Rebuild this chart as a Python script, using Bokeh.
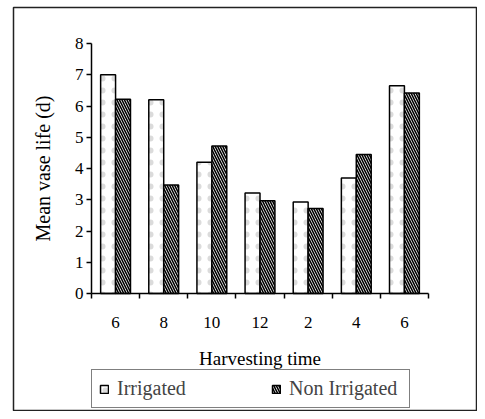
import numpy as np
from bokeh.plotting import figure
from bokeh.models import ColumnDataSource, FixedTicker, Legend, LegendItem, Range1d
from bokeh.embed import file_html
from bokeh.resources import INLINE

harvest_times = ["6", "8", "10", "12", "2", "4", "6"]
irrigated = [7.0, 6.2, 4.2, 3.22, 2.93, 3.7, 6.65]
non_irrigated = [6.22, 3.47, 4.72, 2.97, 2.72, 4.45, 6.42]
y_ticks = [0, 1, 2, 3, 4, 5, 6, 7, 8]

n = len(harvest_times)
pos = np.arange(n) + 0.5
bw = 0.31
src = ColumnDataSource(dict(x_irr=pos - bw / 2, x_non=pos + bw / 2,
                            irr=irrigated, non=non_irrigated))

FONT = "Liberation Serif"

# the plot frame is the outer box of the chart; axes are drawn inside it
p = figure(width=477, height=411,
           x_range=Range1d(-1.62, n + 0.997), y_range=Range1d(-3.744, 9.152),
           output_backend="svg", toolbar_location=None,
           min_border_left=13, min_border_right=1, min_border_top=7,
           min_border_bottom=1)
p.outline_line_color = "#222222"
p.outline_line_width = 1.5
p.grid.visible = False
p.background_fill_color = "white"
p.border_fill_color = "white"

r_irr = p.vbar(x="x_irr", top="irr", width=bw, source=src, fill_color="white",
               line_color="black", line_width=1.5, hatch_pattern="dot",
               hatch_color="#888888", hatch_alpha=0.3, hatch_scale=12, hatch_weight=1)
r_non = p.vbar(x="x_non", top="non", width=bw, source=src, fill_color="white",
               line_color="black", line_width=1.5, hatch_pattern="left_diagonal_line",
               hatch_color="black", hatch_weight=1.6, hatch_scale=5)

# y axis
p.yaxis.fixed_location = 0
p.yaxis.bounds = (0, 8)
p.yaxis.ticker = FixedTicker(ticks=y_ticks)
p.yaxis.major_tick_in = 0
p.yaxis.major_tick_out = 5
p.yaxis.major_label_standoff = 3
p.yaxis.axis_label = "Mean vase life (d)"
p.yaxis.axis_label_standoff = 18

# x axis
p.xaxis.fixed_location = 0
p.xaxis.bounds = (0, n)
p.xaxis.ticker = FixedTicker(ticks=list(pos), minor_ticks=list(range(n + 1)))
p.xaxis.major_label_overrides = {float(x): t for x, t in zip(pos, harvest_times)}
p.xaxis.major_tick_in = 0
p.xaxis.major_tick_out = 0
p.xaxis.minor_tick_in = 0
p.xaxis.minor_tick_out = 5
p.xaxis.major_label_standoff = 18
p.xaxis.axis_label = "Harvesting time"
p.xaxis.axis_label_standoff = 17

for ax in (p.xaxis, p.yaxis):
    ax.axis_line_color = "black"
    ax.axis_line_width = 1.5
    ax.major_tick_line_color = "black"
    ax.major_tick_line_width = 1.5
    ax.minor_tick_line_width = 1.5
    ax.major_label_text_font = FONT
    ax.major_label_text_font_size = "17px"
    ax.major_label_text_color = "black"
    ax.axis_label_text_font = FONT
    ax.axis_label_text_font_style = "normal"
    ax.axis_label_text_color = "black"
p.xaxis.axis_label_text_font_size = "19px"
p.yaxis.axis_label_text_font_size = "20px"
p.xaxis.minor_tick_line_color = "black"
p.yaxis.minor_tick_line_color = None

legend = Legend(items=[LegendItem(label="Irrigated", renderers=[r_irr]),
                       LegendItem(label="Non Irrigated", renderers=[r_non])],
                orientation="horizontal", location=(78, 2),
                padding=7, spacing=41, label_width=113,
                glyph_width=10, glyph_height=10, label_standoff=8,
                label_text_font=FONT, label_text_font_size="20px",
                border_line_color="black", border_line_width=1.5,
                margin=0)
p.add_layout(legend, "center")

open("out.html", "w").write(file_html(p, INLINE))
